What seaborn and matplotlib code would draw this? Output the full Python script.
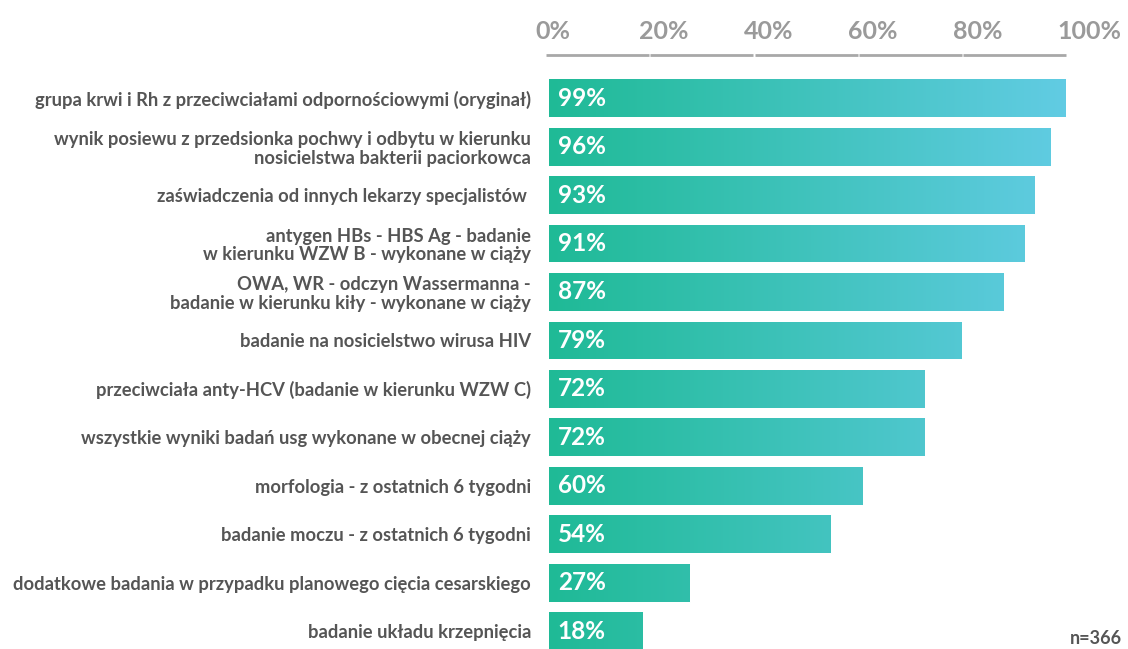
import numpy as np
import pandas as pd
import matplotlib
matplotlib.use("Agg")
import matplotlib.pyplot as plt
import matplotlib.transforms as mtransforms
from matplotlib.colors import LinearSegmentedColormap
import seaborn as sns

categories = [
    "grupa krwi i Rh z przeciwciałami odpornościowymi (oryginał)",
    "wynik posiewu z przedsionka pochwy i odbytu w kierunku\nnosicielstwa bakterii paciorkowca",
    "zaświadczenia od innych lekarzy specjalistów ",
    "antygen HBs - HBS Ag - badanie\nw kierunku WZW B - wykonane w ciąży",
    "OWA, WR - odczyn Wassermanna -\nbadanie w kierunku kiły - wykonane w ciąży",
    "badanie na nosicielstwo wirusa HIV",
    "przeciwciała anty-HCV (badanie w kierunku WZW C)",
    "wszystkie wyniki badań usg wykonane w obecnej ciąży",
    "morfologia - z ostatnich 6 tygodni",
    "badanie moczu - z ostatnich 6 tygodni",
    "dodatkowe badania w przypadku planowego cięcia cesarskiego",
    "badanie układu krzepnięcia",
]
values = [99, 96, 93, 91, 87, 79, 72, 72, 60, 54, 27, 18]
ticks = [0, 20, 40, 60, 80, 100]
tick_labels = ["0%", "20%", "40%", "60%", "80%", "100%"]
note = "n=366"

sns.set_theme(style="white")
plt.rcParams["font.family"] = ["Lato", "DejaVu Sans"]

W, H = 1128, 649
fig = plt.figure(figsize=(W / 100, H / 100), dpi=100)
ax_top_px = 74
ax = fig.add_axes([549 / W, 0, 522 / W, 1 - ax_top_px / H])

df = pd.DataFrame({"cat": categories, "val": values})
sns.barplot(data=df, x="val", y="cat", orient="h", color="#2bbf9f",
            saturation=1, width=0.78, ax=ax)

YLIM = (11.37, -0.5)
cmap = LinearSegmentedColormap.from_list("g", ["#1fba96", "#62cce4"])
grad = np.linspace(0, 1, 256).reshape(1, -1)
for p in list(ax.patches):
    im = ax.imshow(grad, cmap=cmap, aspect="auto",
                   extent=[0, 100, YLIM[0], YLIM[1]], zorder=p.get_zorder() + 0.1)
    im.set_clip_path(p)

ax.set_xlim(0, 100)
ax.set_ylim(*YLIM)

for i, v in enumerate(values):
    ax.text(1.7, i, f"{v}%", color="white", fontweight="bold", fontsize=17.5,
            va="center", ha="left", zorder=10)

# top axis
ax.xaxis.tick_top()
ax.set_xticks(ticks)
ax.set_xticklabels(tick_labels)
ax.tick_params(axis="x", length=0, pad=22, labelsize=18, labelcolor="#9a9a9a")
off = mtransforms.ScaledTranslation(-14 / 100, 0, fig.dpi_scale_trans)
for lab in ax.get_xticklabels():
    lab.set_fontweight("bold")
    lab.set_ha("left")
    lab.set_transform(lab.get_transform() + off)

ax.tick_params(axis="y", length=0, pad=13, labelsize=13.2, labelcolor="#555555")
for lab in ax.get_yticklabels():
    lab.set_fontweight("bold")
    lab.set_linespacing(1.1)
ax.set_xlabel("")
ax.set_ylabel("")
for s in ax.spines.values():
    s.set_visible(False)

# segment lines under tick labels
trans = mtransforms.blended_transform_factory(ax.transData, ax.transAxes)
yseg = 1 + 19 / (H - ax_top_px)
for t in ticks[:-1]:
    ax.plot([t - 0.6, t + 19.1], [yseg, yseg], transform=trans, color="#a8a8a8",
            lw=2, clip_on=False, solid_capstyle="butt")

fig.text(1122 / W, 1 - 639 / H, note, ha="right", va="center",
         fontsize=13, fontweight="bold", color="#555555")

fig.savefig("out.png", dpi=100)
